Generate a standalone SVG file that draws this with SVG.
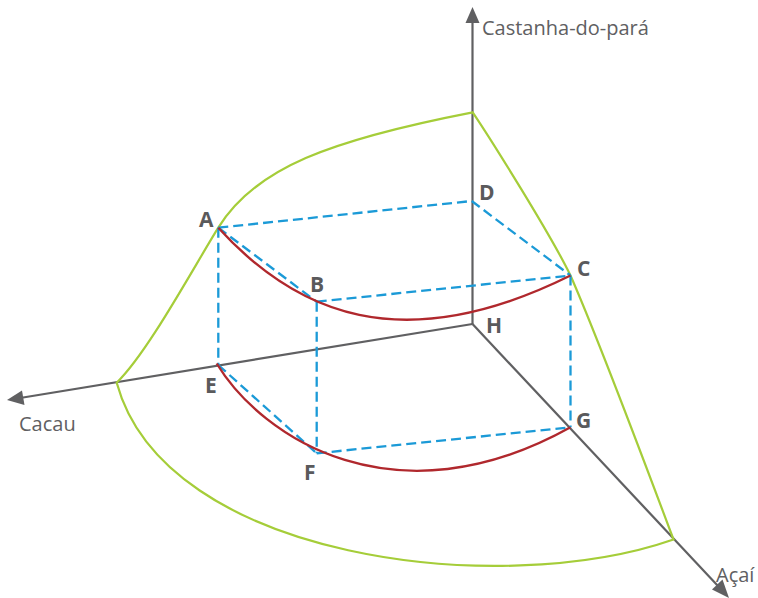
<svg xmlns="http://www.w3.org/2000/svg" width="758" height="598" viewBox="0 0 758 598">
<style>
.axis{stroke:#606062;stroke-width:2.2;fill:none}
.head{fill:#606062}
.green{stroke:#a5cd39;stroke-width:2.2;fill:none}
.red{stroke:#b0282d;stroke-width:2.4;fill:none}
.dash{stroke:#1b9ad7;stroke-width:2.3;fill:none;stroke-dasharray:10 5}
.lbl{font-family:"Open Sans","Liberation Sans",sans-serif;font-size:20px;fill:#606062}
.pt{font-family:"Open Sans","Liberation Sans",sans-serif;font-size:21px;font-weight:700;fill:#5a5a5c}
</style>
<rect width="758" height="598" fill="#ffffff"/>
<g id="axes">
<line class="axis" x1="472.5" y1="324" x2="472.5" y2="20"/>
<polygon class="head" points="472.5,7 465.5,23 479.5,23"/>
<line class="axis" x1="472.5" y1="324" x2="20" y2="398"/>
<polygon class="head" points="7,400 22,390.5 24.5,405"/>
<line class="axis" x1="472.5" y1="324" x2="718" y2="586"/>
<polygon class="head" points="729,598 712,589.5 722.5,579.5"/>
</g>
<g id="surface">
<path class="green" d="M116.7,382.7 C148,352 192,270 218.3,227.7 C255,168 330,140 472.7,112.3 C490,138 550.6,234.3 570.5,275.5 C590,320 640,450 673.5,539.5 C500,600 165,560 116.7,382.7 Z"/>
</g>
<g id="connectors">
<line class="dash" x1="218.3" y1="227.7" x2="471.7" y2="201"/>
<line class="dash" x1="471.7" y1="201" x2="570.5" y2="275.5"/>
<line class="dash" x1="218.3" y1="227.7" x2="316.7" y2="301.7"/>
<line class="dash" x1="316.7" y1="301.7" x2="570.5" y2="275.5"/>
<line class="dash" x1="218.3" y1="227.7" x2="218.3" y2="365"/>
<line class="dash" x1="316.7" y1="301.7" x2="316.7" y2="453.3"/>
<line class="dash" x1="570.5" y1="275.5" x2="570.5" y2="427.3"/>
<line class="dash" x1="218.3" y1="365" x2="316.7" y2="453.3"/>
<line class="dash" x1="316.7" y1="453.3" x2="570.5" y2="427.3"/>
<path class="red" d="M218.3,227.7 C295,312 400,360 570.5,275.5"/>
<path class="red" d="M216.7,363.5 C262,438 395,525 570.5,427.3"/>
</g>
<g id="A"><text class="pt" x="199" y="227">A</text></g>
<g id="B"><text class="pt" x="310" y="292">B</text></g>
<g id="C"><text class="pt" x="577" y="276">C</text></g>
<g id="D"><text class="pt" x="479" y="200">D</text></g>
<g id="E"><text class="pt" x="205" y="393">E</text></g>
<g id="F"><text class="pt" x="304" y="480">F</text></g>
<g id="G"><text class="pt" x="576" y="428">G</text></g>
<g id="H"><text class="pt" x="486" y="333">H</text></g>
<g id="labels">
<text class="lbl" x="482" y="35">Castanha-do-pará</text>
<text class="lbl" x="19" y="431">Cacau</text>
<text class="lbl" x="716" y="582">Açaí</text>
</g>
</svg>
